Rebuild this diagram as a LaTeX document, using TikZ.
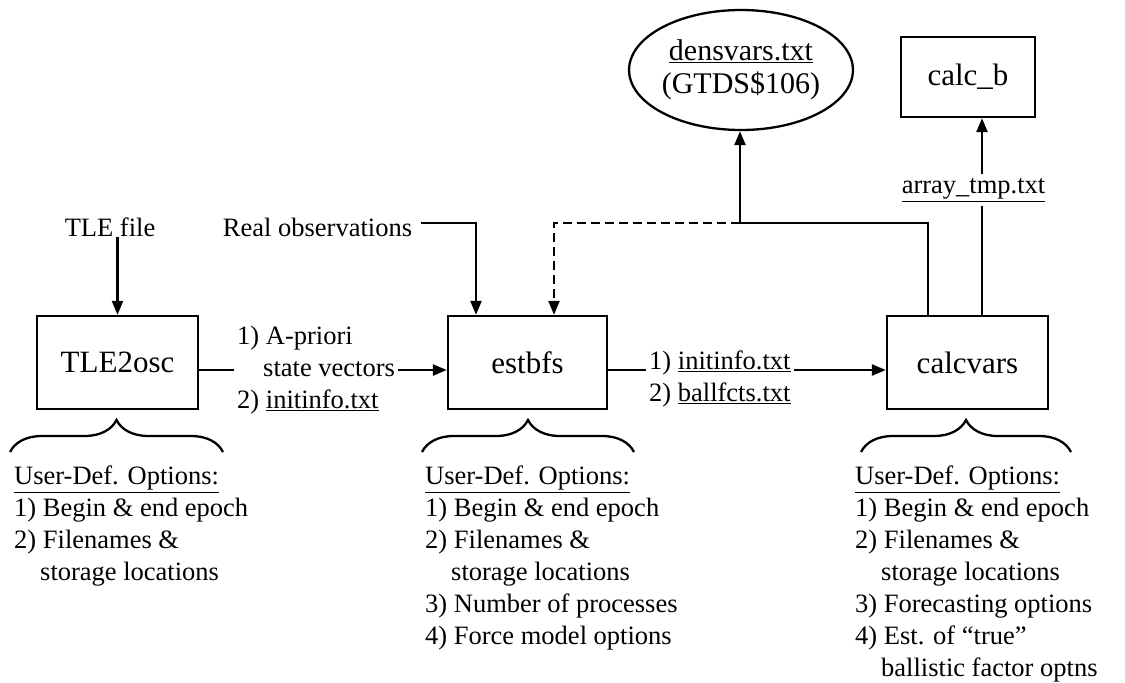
\documentclass[tikz,border=0pt]{standalone}
\usepackage{fontspec}
\setmainfont{Liberation Serif}
\usetikzlibrary{arrows.meta,shapes.geometric,decorations.pathreplacing}
\begin{document}
\begin{tikzpicture}[x=1pt,y=-1pt,
  every node/.style={font=\fontsize{26.5}{32}\selectfont, inner sep=0pt},
  box/.style={draw, line width=2.3pt, font=\fontsize{31}{37}\selectfont},
  conn/.style={line width=2.3pt},
  tip/.style={-{Triangle[length=14pt,width=11pt]}},
  arr/.style={line width=2.3pt, tip},
  dsh/.style={line width=2.3pt, dash pattern=on 9pt off 5pt},
  brc/.style={decorate, decoration={brace, amplitude=32pt}, line width=2.3pt},
  opts/.style={align=left, anchor=north west}]
\useasboundingbox (0,0) rectangle (1125,683);

% boxes
\node[box, minimum width=161pt, minimum height=93pt] (tle) at (117.5,362.5) {TLE2osc};
\node[box, minimum width=159pt, minimum height=93pt] (est) at (527.5,362.5) {estbfs};
\node[box, minimum width=161pt, minimum height=93pt] (calc) at (967.5,362.5) {calcvars};
\node[box, minimum width=134pt, minimum height=80pt] (calcb) at (968,77) {calc\_b};
\node[draw, ellipse, line width=2.3pt, minimum width=187pt, minimum height=120pt,
      align=center, font=\fontsize{30}{33}\selectfont] (dens) at (741,70)
      {\underline{densvars.txt}\\(GTDS\$106)};

% labels
\node (tlefile) at (110,227) {TLE file};
\node[inner xsep=9pt] (rob) at (317.5,227) {Real observations};
\node[align=left, anchor=west, inner xsep=3pt] (ap) at (234,370)
  {1) A-priori\\\hspace*{26pt}state vectors\\2) \underline{initinfo.txt}};
\node[align=left, anchor=west, inner xsep=3pt] (bf) at (646,379)
  {1) \underline{initinfo.txt}\\2) \underline{ballfcts.txt}};
\node[inner sep=4pt] (atmp) at (973.5,190) {\underline{array\_tmp.txt}};

% connectors
\coordinate (mid) at (0,370);
\draw[arr] (tlefile.south -| tle.north) -- (tle.north);
\draw[conn] (tle.east |- mid) -- (ap.west |- mid);
\draw[arr] (ap.east |- mid) -- (est.west |- mid);
\draw[conn] (est.east |- mid) -- (bf.west |- mid);
\draw[arr] (bf.east |- mid) -- (calc.west |- mid);

\coordinate (ro) at (476,223);
\draw[arr] (rob.east |- ro) -- (ro) -- (ro |- est.north);

\coordinate (dj) at (554,223);
\coordinate (ej) at (740,223);
\coordinate (cj) at (928,223);
\draw[dsh, tip] (ej) -- (dj) -- (dj |- est.north);
\draw[conn] (cj |- calc.north) -- (cj) -- (ej);
\draw[arr] (ej) -- (ej |- dens.south);

\coordinate (aj) at (982,0);
\draw[conn] (aj |- calc.north) -- (aj |- atmp.south);
\draw[arr] (aj |- atmp.north) -- (aj |- calcb.south);

% braces
\draw[brc] (10,452) -- (223,452);
\draw[brc] (422,452) -- (634,452);
\draw[brc] (861,452) -- (1071,452);

% options
\node[opts] (o1) at (14,466) {\underline{User-Def. Options:}\\1) Begin \& end epoch\\2) Filenames \&\\\hspace*{26pt}storage locations};
\node[opts] (o2) at (425,466) {\underline{User-Def. Options:}\\1) Begin \& end epoch\\2) Filenames \&\\\hspace*{26pt}storage locations\\3) Number of processes\\4) Force model options};
\node[opts] (o3) at (855,466) {\underline{User-Def. Options:}\\1) Begin \& end epoch\\2) Filenames \&\\\hspace*{26pt}storage locations\\3) Forecasting options\\4) Est. of ``true''\\\hspace*{26pt}ballistic factor optns};
\end{tikzpicture}
\end{document}
